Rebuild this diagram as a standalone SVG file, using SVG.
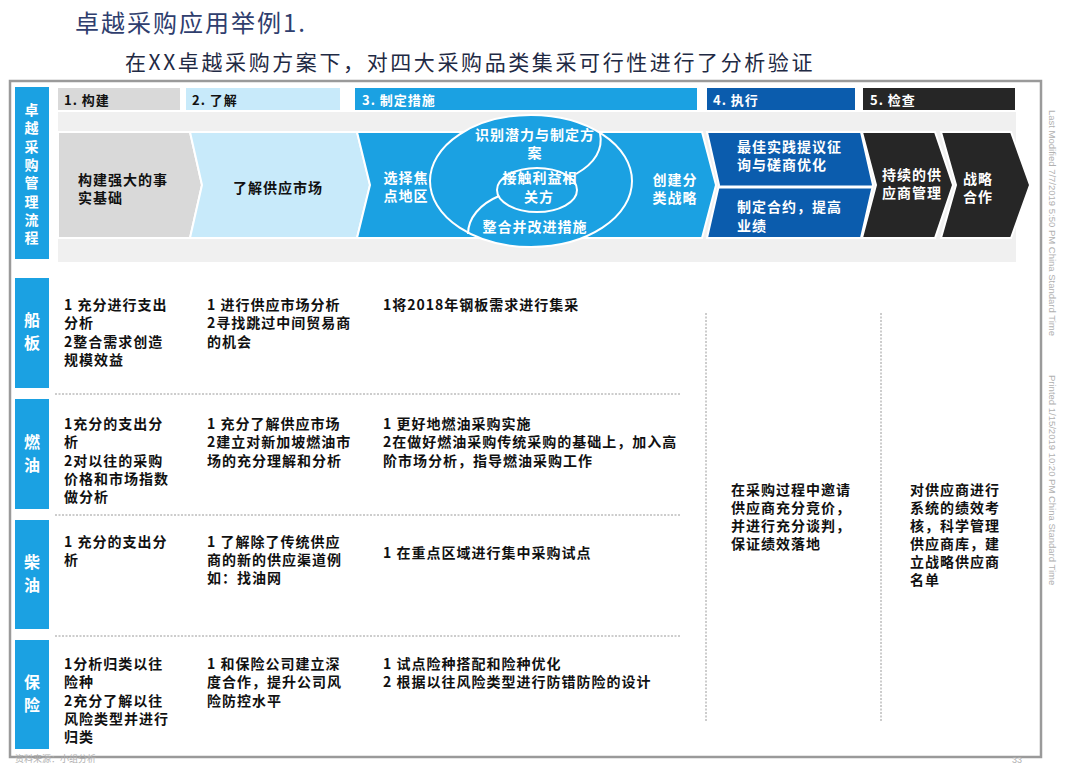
<svg xmlns="http://www.w3.org/2000/svg" width="1080" height="764" viewBox="0 0 1080 764">
<style>
.t{font-family:"Noto Sans CJK SC","Noto Sans",sans-serif;font-weight:700;font-size:14px;letter-spacing:1px;fill:#111}
.w{fill:#fff}
.c{text-anchor:middle}
.lbl{font-size:16px;letter-spacing:0}
.ph{font-size:13px}
.sep{stroke:#9a9a9a;stroke-width:1;stroke-dasharray:2 1.5;fill:none}
.chev{stroke:#fff;stroke-width:2}
.side{font-family:"Liberation Sans",sans-serif;font-size:9.5px;fill:#b0b0b0}
</style>
<rect width="1080" height="764" fill="#fff"/>
<!-- titles -->
<text x="75" y="32" font-family="'Noto Sans CJK SC',sans-serif" font-size="24" letter-spacing="2" fill="#2f3e6e">卓越采购应用举例1.</text>
<text x="125" y="70" font-family="'Noto Sans CJK SC',sans-serif" font-size="21" letter-spacing="2.6" fill="#1f2a44">在XX卓越采购方案下，对四大采购品类集采可行性进行了分析验证</text>
<!-- frame -->
<rect x="10" y="81" width="1031" height="676" fill="#fff" stroke="#9a9a9a" stroke-width="2.5"/>
<!-- side notes -->
<text class="side" transform="translate(1049,110) rotate(90)">Last Modified 7/7/2019 5:50 PM China Standard Time</text>
<text class="side" transform="translate(1049,375) rotate(90)">Printed 1/15/2019 10:20 PM China Standard Time</text>
<text x="15" y="762" font-family="'Noto Sans CJK SC',sans-serif" font-size="9" fill="#b0b0b0">资料来源：小组分析</text>
<text x="1012" y="763" font-family="'Liberation Sans',sans-serif" font-size="9" fill="#b0b0b0">33</text>

<!-- left process header -->
<g id="process-label">
<rect x="15" y="87" width="34" height="172" fill="#1ba1e2"/>
<text class="t w c" x="32" y="115">卓</text>
<text class="t w c" x="32" y="133">越</text>
<text class="t w c" x="32" y="152">采</text>
<text class="t w c" x="32" y="170">购</text>
<text class="t w c" x="32" y="188">管</text>
<text class="t w c" x="32" y="207">理</text>
<text class="t w c" x="32" y="225">流</text>
<text class="t w c" x="32" y="243">程</text>
</g>

<!-- phase headers -->
<g id="phase-1"><rect x="58" y="88" width="122" height="22" fill="#d9d9d9"/><text class="t ph" x="64" y="105">1. 构建</text></g>
<g id="phase-2"><rect x="186" y="88" width="154" height="22" fill="#c8eafa"/><text class="t ph" x="192" y="105">2. 了解</text></g>
<g id="phase-3"><rect x="355" y="88" width="342" height="22" fill="#1ba1e2"/><text class="t ph w" x="362" y="105">3. 制定措施</text></g>
<g id="phase-4"><rect x="707" y="88" width="148" height="22" fill="#0b5cad"/><text class="t ph w" x="713" y="105">4. 执行</text></g>
<g id="phase-5"><rect x="863" y="88" width="152" height="22" fill="#262626"/><text class="t ph w" x="870" y="105">5. 检查</text></g>

<!-- band -->
<rect x="58" y="112" width="958" height="150" fill="#f0f0f0"/>

<!-- chevrons -->
<g id="step-build">
<polygon class="chev" points="58,132 190,132 202,185 190,238 58,238" fill="#d9d9d9"/>
<text class="t" x="78" y="185">构建强大的事</text>
<text class="t" x="78" y="203">实基础</text>
</g>
<g id="step-understand">
<polygon class="chev" points="190,132 357,132 370,185 357,238 190,238 202,185" fill="#c8eafa"/>
<text class="t c" x="278" y="193">了解供应市场</text>
</g>
<g id="step-measures">
<polygon class="chev" points="357,132 702,132 716,185 702,238 357,238 370,185" fill="#1ba1e2"/>
<ellipse cx="531" cy="181" rx="101" ry="66" fill="#1ba1e2" stroke="#fff" stroke-width="2"/>
<ellipse cx="537" cy="190" rx="40" ry="22" fill="none" stroke="#fff" stroke-width="2"/>
<path d="M576,174 C597,162 603,148 600,133" fill="none" stroke="#fff" stroke-width="2"/>
<path d="M499,196 C480,204 468,218 468,234" fill="none" stroke="#fff" stroke-width="2"/>
<text class="t w c" x="406" y="183">选择焦</text>
<text class="t w c" x="406" y="201">点地区</text>
<text class="t w c" x="535" y="140">识别潜力与制定方</text>
<text class="t w c" x="535" y="158">案</text>
<text class="t w c" x="540" y="183">接触利益相</text>
<text class="t w c" x="539" y="202">关方</text>
<text class="t w c" x="535" y="232">整合并改进措施</text>
<text class="t w c" x="675" y="185">创建分</text>
<text class="t w c" x="675" y="203">类战略</text>
</g>
<g id="step-execute">
<polygon class="chev" points="707,132 861,132 873,185 861,238 707,238 719,185" fill="#0b5cad"/>
<line x1="718" y1="187" x2="872" y2="187" stroke="#fff" stroke-width="3"/>
<text class="t w" x="737" y="152">最佳实践提议征</text>
<text class="t w" x="737" y="170">询与磋商优化</text>
<text class="t w" x="737" y="212">制定合约，提高</text>
<text class="t w" x="737" y="231">业绩</text>
</g>
<g id="step-supplier">
<polygon class="chev" points="862,132 935,132 953,185 935,238 862,238 876,185" fill="#262626"/>
<text class="t w" x="882" y="180">持续的供</text>
<text class="t w" x="882" y="198">应商管理</text>
</g>
<g id="step-strategy">
<polygon class="chev" points="941,132 1011,132 1030,185 1011,238 941,238 956,185" fill="#262626"/>
<text class="t w" x="963" y="184">战略</text>
<text class="t w" x="963" y="202">合作</text>
</g>

<!-- separators -->
<g id="connectors">
<line class="sep" x1="55" y1="394" x2="680" y2="394"/>
<line class="sep" x1="55" y1="515" x2="680" y2="515"/>
<line class="sep" x1="55" y1="636" x2="680" y2="636"/>
<line class="sep" x1="706" y1="313" x2="706" y2="722"/>
<line class="sep" x1="881" y1="313" x2="881" y2="722"/>
</g>

<!-- rows -->
<g id="row-shipplate">
<rect x="15" y="278" width="34" height="110" fill="#1ba1e2"/>
<text class="t w c lbl" x="32" y="326">船</text>
<text class="t w c lbl" x="32" y="349">板</text>
<text class="t" x="64" y="310">1 充分进行支出</text>
<text class="t" x="64" y="328">分析</text>
<text class="t" x="64" y="347">2整合需求创造</text>
<text class="t" x="64" y="365">规模效益</text>
<text class="t" x="207" y="310">1 进行供应市场分析</text>
<text class="t" x="207" y="328">2寻找跳过中间贸易商</text>
<text class="t" x="207" y="347">的机会</text>
<text class="t" x="383" y="310">1将2018年钢板需求进行集采</text>
</g>
<g id="row-fueloil">
<rect x="15" y="399" width="34" height="110" fill="#1ba1e2"/>
<text class="t w c lbl" x="32" y="448">燃</text>
<text class="t w c lbl" x="32" y="471">油</text>
<text class="t" x="64" y="429">1充分的支出分</text>
<text class="t" x="64" y="447">析</text>
<text class="t" x="64" y="466">2对以往的采购</text>
<text class="t" x="64" y="484">价格和市场指数</text>
<text class="t" x="64" y="502">做分析</text>
<text class="t" x="207" y="429">1 充分了解供应市场</text>
<text class="t" x="207" y="447">2建立对新加坡燃油市</text>
<text class="t" x="207" y="466">场的充分理解和分析</text>
<text class="t" x="383" y="429">1 更好地燃油采购实施</text>
<text class="t" x="383" y="447">2在做好燃油采购传统采购的基础上，加入高</text>
<text class="t" x="383" y="466">阶市场分析，指导燃油采购工作</text>
</g>
<g id="row-diesel">
<rect x="15" y="520" width="34" height="109" fill="#1ba1e2"/>
<text class="t w c lbl" x="32" y="568">柴</text>
<text class="t w c lbl" x="32" y="591">油</text>
<text class="t" x="64" y="547">1 充分的支出分</text>
<text class="t" x="64" y="565">析</text>
<text class="t" x="207" y="547">1 了解除了传统供应</text>
<text class="t" x="207" y="565">商的新的供应渠道例</text>
<text class="t" x="207" y="583">如：找油网</text>
<text class="t" x="383" y="558">1 在重点区域进行集中采购试点</text>
</g>
<g id="row-insurance">
<rect x="15" y="640" width="34" height="109" fill="#1ba1e2"/>
<text class="t w c lbl" x="32" y="688">保</text>
<text class="t w c lbl" x="32" y="711">险</text>
<text class="t" x="64" y="669">1分析归类以往</text>
<text class="t" x="64" y="687">险种</text>
<text class="t" x="64" y="706">2充分了解以往</text>
<text class="t" x="64" y="724">风险类型并进行</text>
<text class="t" x="64" y="742">归类</text>
<text class="t" x="207" y="669">1 和保险公司建立深</text>
<text class="t" x="207" y="687">度合作，提升公司风</text>
<text class="t" x="207" y="706">险防控水平</text>
<text class="t" x="383" y="669">1 试点险种搭配和险种优化</text>
<text class="t" x="383" y="687">2 根据以往风险类型进行防错防险的设计</text>
</g>
<g id="col-execute">
<text class="t" x="731" y="495">在采购过程中邀请</text>
<text class="t" x="731" y="513">供应商充分竞价，</text>
<text class="t" x="731" y="531">并进行充分谈判，</text>
<text class="t" x="731" y="549">保证绩效落地</text>
</g>
<g id="col-check">
<text class="t" x="910" y="495">对供应商进行</text>
<text class="t" x="910" y="513">系统的绩效考</text>
<text class="t" x="910" y="531">核，科学管理</text>
<text class="t" x="910" y="549">供应商库，建</text>
<text class="t" x="910" y="567">立战略供应商</text>
<text class="t" x="910" y="585">名单</text>
</g>
</svg>
